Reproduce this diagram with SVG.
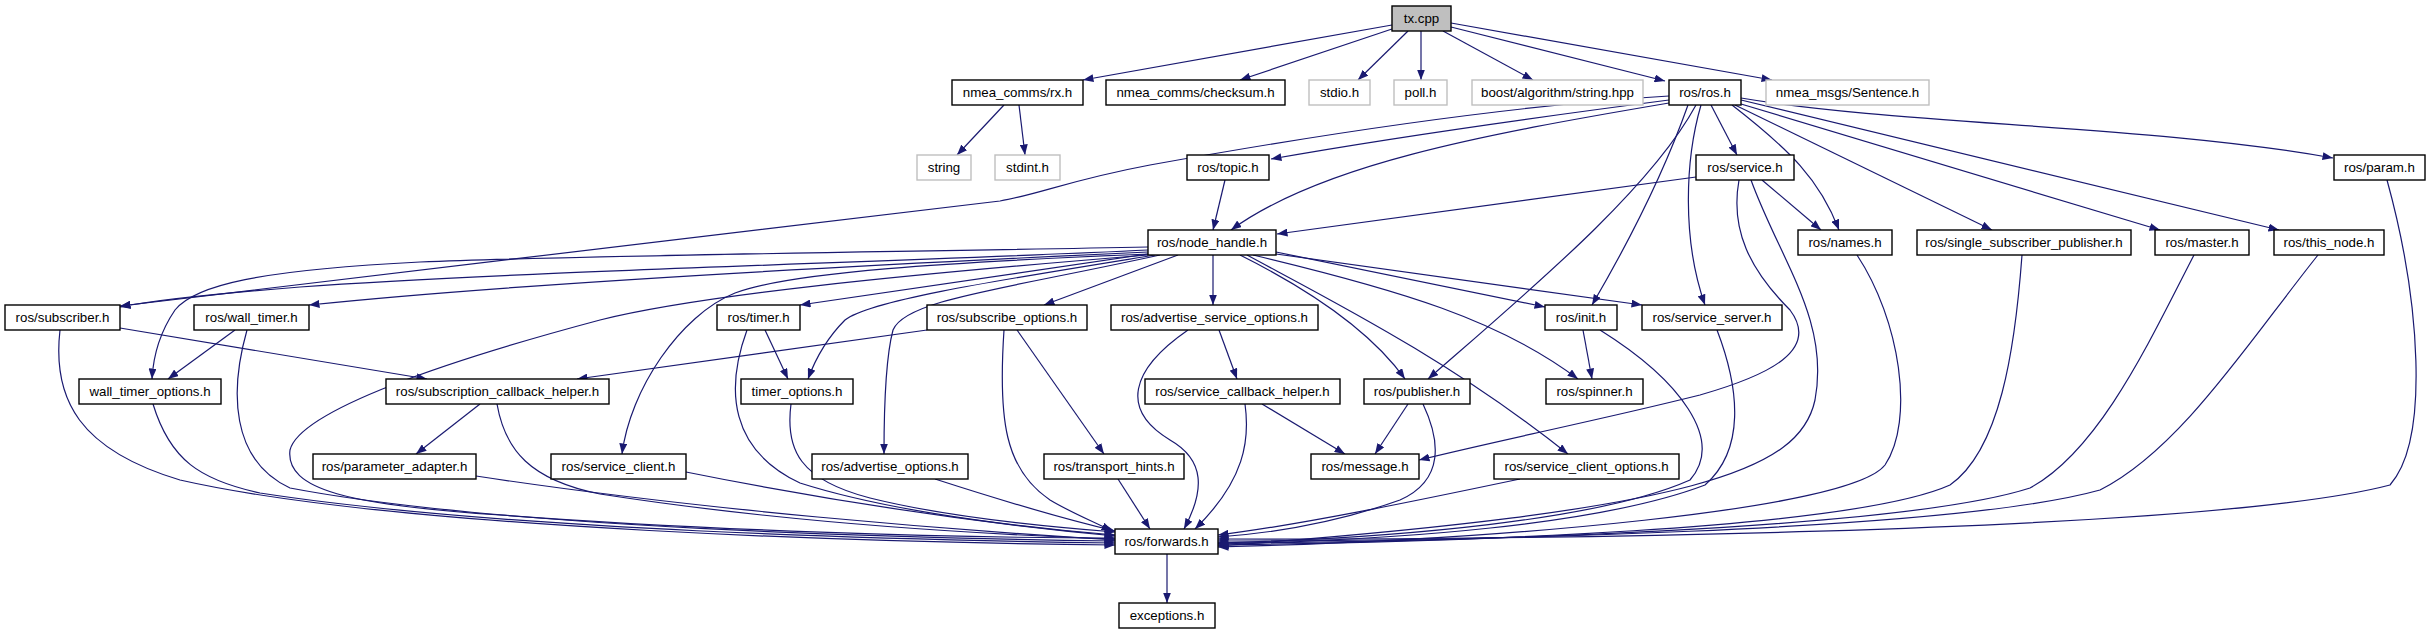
<svg xmlns="http://www.w3.org/2000/svg" width="2431" height="635" viewBox="0 0 2431 635">
<defs>
<marker id="ah" markerUnits="userSpaceOnUse" markerWidth="11" markerHeight="8" refX="10.5" refY="4" orient="auto">
<path d="M0,0 L10.5,4 L0,8 z" fill="#191970"/>
</marker>
<style>
.n rect{fill:#fff;stroke:#000;stroke-width:1.4}
.g rect{fill:#fff;stroke:#bfbfbf;stroke-width:1.4}
.r rect{fill:#bfbfbf;stroke:#000;stroke-width:1.4}
text{font-family:"Liberation Sans",Arial,Helvetica,sans-serif;font-size:13.3px;text-anchor:middle;fill:#000}
#edges path{fill:none;stroke:#191970;stroke-width:1.2;marker-end:url(#ah)}
</style>
</defs>
<rect width="2431" height="635" fill="#fff"/>
<g id="edges">
<!-- tx.cpp -->
<path d="M1392,25 L1083,80"/>
<path d="M1392,29 L1240,80"/>
<path d="M1408,31 L1358,80"/>
<path d="M1421,31 L1421,80"/>
<path d="M1443,31 L1533,80"/>
<path d="M1451,27 L1665,81"/>
<path d="M1451,23 L1772,80"/>
<!-- rx.h -->
<path d="M1004,105 L957,155"/>
<path d="M1019,105 L1025,155"/>
<!-- ros.h -->
<path d="M1669,96 C1500,106 1300,138 1150,165 C1070,180 1040,194 1000,201 L120,306"/>
<path d="M1669,100 C1500,122 1350,145 1271,159"/>
<path d="M1669,103 C1480,135 1320,165 1231,230"/>
<path d="M1711,105 L1737,155"/>
<path d="M1732,105 C1790,150 1820,180 1839,230"/>
<path d="M1735,105 L1992,230"/>
<path d="M1741,104 L2160,230"/>
<path d="M1741,100 L2279,230"/>
<path d="M1741,98 C1900,125 2150,125 2333,158"/>
<path d="M1701,105 C1685,160 1682,240 1705,305"/>
<path d="M1688,105 C1665,170 1630,240 1592,305"/>
<path d="M1696,105 C1650,190 1530,290 1428,379"/>
<!-- topic -->
<path d="M1225,180 L1213,230"/>
<!-- service.h -->
<path d="M1696,177 L1277,234"/>
<path d="M1762,180 L1821,230"/>
<path d="M1739,180 C1730,230 1750,270 1790,310 C1820,350 1770,375 1700,395 C1600,420 1500,440 1419,460"/>
<path d="M1751,180 C1780,260 1830,320 1815,400 C1800,470 1700,510 1218,546"/>
<!-- node_handle -->
<path d="M1148,247 C900,252 600,255 420,262 C260,270 195,285 175,310 C158,335 153,360 152,379"/>
<path d="M1148,250 C900,262 500,272 300,287 C200,295 150,301 120,307"/>
<path d="M1148,252 C800,268 500,285 309,305"/>
<path d="M1148,254 L800,305"/>
<path d="M1148,255 C900,275 700,295 600,320 C450,360 300,410 290,450 C285,490 350,505 500,515 C700,530 950,538 1115,538"/>
<path d="M1150,254 C950,262 790,272 735,293 C680,315 630,390 622,454"/>
<path d="M1155,255 C1000,280 870,300 845,320 C825,340 815,360 808,379"/>
<path d="M1160,255 C1000,290 905,300 893,330 C885,360 884,420 884,454"/>
<path d="M1178,255 L1044,305"/>
<path d="M1213,255 L1213,305"/>
<path d="M1240,255 C1310,290 1370,330 1405,379"/>
<path d="M1247,255 C1330,300 1450,360 1568,454"/>
<path d="M1253,255 C1400,290 1500,320 1578,379"/>
<path d="M1276,252 L1545,307"/>
<path d="M1276,254 L1642,305"/>
<!-- row3 -> forwards -->
<path d="M1857,255 C1900,320 1915,420 1885,465 C1850,510 1500,540 1218,547"/>
<path d="M2022,255 C2015,350 2000,450 1950,485 C1850,530 1450,542 1218,545"/>
<path d="M2194,255 C2150,340 2100,450 2030,488 C1900,530 1450,542 1218,543"/>
<path d="M2318,255 C2250,340 2180,450 2100,490 C1950,532 1450,541 1218,541"/>
<path d="M2387,180 C2420,300 2430,440 2390,485 C2200,535 1450,540 1218,539"/>
<!-- row4 -->
<path d="M120,328 L427,379"/>
<path d="M60,330 C52,400 80,450 180,480 C400,530 900,543 1115,545"/>
<path d="M235,330 L168,379"/>
<path d="M247,330 C230,390 230,460 290,488 C500,528 900,538 1115,541"/>
<path d="M765,330 L788,379"/>
<path d="M747,330 C725,390 730,450 800,483 C900,515 1050,530 1115,535"/>
<path d="M927,330 L577,379"/>
<path d="M1017,330 L1104,454"/>
<path d="M1004,330 C998,420 1005,470 1050,500 C1070,512 1090,520 1112,531"/>
<path d="M1219,330 L1237,379"/>
<path d="M1188,330 C1130,370 1120,410 1170,440 C1205,460 1205,490 1184,529"/>
<path d="M1583,330 L1592,379"/>
<path d="M1600,330 C1680,380 1725,440 1690,480 C1600,520 1400,538 1218,543"/>
<path d="M1717,330 C1740,390 1745,450 1705,485 C1600,525 1400,540 1218,544"/>
<!-- row5 -->
<path d="M153,404 C170,460 200,480 260,493 C500,530 900,540 1115,543"/>
<path d="M480,404 L416,454"/>
<path d="M497,404 C505,450 530,480 600,494 C800,525 1000,535 1115,539"/>
<path d="M791,404 C785,450 800,480 870,498 C950,518 1050,527 1115,532"/>
<path d="M1262,404 L1345,454"/>
<path d="M1245,404 C1250,440 1245,480 1195,529"/>
<path d="M1408,404 L1375,454"/>
<path d="M1423,404 C1440,440 1445,480 1400,500 C1330,525 1260,534 1218,537"/>
<!-- row6 -->
<path d="M476,476 C700,510 950,530 1115,540"/>
<path d="M686,472 C850,505 1000,525 1115,536"/>
<path d="M935,479 C1000,500 1060,518 1115,531"/>
<path d="M1118,479 L1150,529"/>
<path d="M1520,479 C1420,500 1300,525 1218,535"/>
<!-- forwards -->
<path d="M1167,554 L1167,603"/>
</g>
<g id="tx_cpp" class="r"><rect x="1392" y="6" width="59" height="25"/><text x="1421.5" y="23">tx.cpp</text></g>
<g id="nmea_comms_rx_h" class="n"><rect x="952" y="80" width="131" height="25"/><text x="1017.5" y="97">nmea_comms/rx.h</text></g>
<g id="nmea_comms_checksum_h" class="n"><rect x="1106" y="80" width="179" height="25"/><text x="1195.5" y="97">nmea_comms/checksum.h</text></g>
<g id="stdio_h" class="g"><rect x="1309" y="80" width="61" height="25"/><text x="1339.5" y="97">stdio.h</text></g>
<g id="poll_h" class="g"><rect x="1394" y="80" width="53" height="25"/><text x="1420.5" y="97">poll.h</text></g>
<g id="boost_string_hpp" class="g"><rect x="1472" y="80" width="171" height="25"/><text x="1557.5" y="97">boost/algorithm/string.hpp</text></g>
<g id="ros_ros_h" class="n"><rect x="1669" y="80" width="72" height="25"/><text x="1705" y="97">ros/ros.h</text></g>
<g id="nmea_msgs_Sentence_h" class="g"><rect x="1766" y="80" width="163" height="25"/><text x="1847.5" y="97">nmea_msgs/Sentence.h</text></g>
<g id="string" class="g"><rect x="917" y="155" width="54" height="25"/><text x="944" y="172">string</text></g>
<g id="stdint_h" class="g"><rect x="995" y="155" width="65" height="25"/><text x="1027.5" y="172">stdint.h</text></g>
<g id="ros_topic_h" class="n"><rect x="1187" y="155" width="82" height="25"/><text x="1228" y="172">ros/topic.h</text></g>
<g id="ros_service_h" class="n"><rect x="1696" y="155" width="98" height="25"/><text x="1745" y="172">ros/service.h</text></g>
<g id="ros_param_h" class="n"><rect x="2334" y="155" width="91" height="25"/><text x="2379.5" y="172">ros/param.h</text></g>
<g id="ros_node_handle_h" class="n"><rect x="1148" y="230" width="128" height="25"/><text x="1212" y="247">ros/node_handle.h</text></g>
<g id="ros_names_h" class="n"><rect x="1798" y="230" width="94" height="25"/><text x="1845" y="247">ros/names.h</text></g>
<g id="ros_single_subscriber_publisher_h" class="n"><rect x="1917" y="230" width="214" height="25"/><text x="2024" y="247">ros/single_subscriber_publisher.h</text></g>
<g id="ros_master_h" class="n"><rect x="2155" y="230" width="94" height="25"/><text x="2202" y="247">ros/master.h</text></g>
<g id="ros_this_node_h" class="n"><rect x="2274" y="230" width="110" height="25"/><text x="2329" y="247">ros/this_node.h</text></g>
<g id="ros_subscriber_h" class="n"><rect x="5" y="305" width="115" height="25"/><text x="62.5" y="322">ros/subscriber.h</text></g>
<g id="ros_wall_timer_h" class="n"><rect x="194" y="305" width="115" height="25"/><text x="251.5" y="322">ros/wall_timer.h</text></g>
<g id="ros_timer_h" class="n"><rect x="717" y="305" width="83" height="25"/><text x="758.5" y="322">ros/timer.h</text></g>
<g id="ros_subscribe_options_h" class="n"><rect x="927" y="305" width="160" height="25"/><text x="1007" y="322">ros/subscribe_options.h</text></g>
<g id="ros_advertise_service_options_h" class="n"><rect x="1111" y="305" width="207" height="25"/><text x="1214.5" y="322">ros/advertise_service_options.h</text></g>
<g id="ros_init_h" class="n"><rect x="1545" y="305" width="72" height="25"/><text x="1581" y="322">ros/init.h</text></g>
<g id="ros_service_server_h" class="n"><rect x="1642" y="305" width="140" height="25"/><text x="1712" y="322">ros/service_server.h</text></g>
<g id="wall_timer_options_h" class="n"><rect x="79" y="379" width="142" height="25"/><text x="150" y="396">wall_timer_options.h</text></g>
<g id="ros_subscription_callback_helper_h" class="n"><rect x="386" y="379" width="223" height="25"/><text x="497.5" y="396">ros/subscription_callback_helper.h</text></g>
<g id="timer_options_h" class="n"><rect x="741" y="379" width="112" height="25"/><text x="797" y="396">timer_options.h</text></g>
<g id="ros_service_callback_helper_h" class="n"><rect x="1145" y="379" width="195" height="25"/><text x="1242.5" y="396">ros/service_callback_helper.h</text></g>
<g id="ros_publisher_h" class="n"><rect x="1364" y="379" width="106" height="25"/><text x="1417" y="396">ros/publisher.h</text></g>
<g id="ros_spinner_h" class="n"><rect x="1546" y="379" width="97" height="25"/><text x="1594.5" y="396">ros/spinner.h</text></g>
<g id="ros_parameter_adapter_h" class="n"><rect x="313" y="454" width="163" height="25"/><text x="394.5" y="471">ros/parameter_adapter.h</text></g>
<g id="ros_service_client_h" class="n"><rect x="551" y="454" width="135" height="25"/><text x="618.5" y="471">ros/service_client.h</text></g>
<g id="ros_advertise_options_h" class="n"><rect x="812" y="454" width="156" height="25"/><text x="890" y="471">ros/advertise_options.h</text></g>
<g id="ros_transport_hints_h" class="n"><rect x="1044" y="454" width="140" height="25"/><text x="1114" y="471">ros/transport_hints.h</text></g>
<g id="ros_message_h" class="n"><rect x="1311" y="454" width="108" height="25"/><text x="1365" y="471">ros/message.h</text></g>
<g id="ros_service_client_options_h" class="n"><rect x="1494" y="454" width="185" height="25"/><text x="1586.5" y="471">ros/service_client_options.h</text></g>
<g id="ros_forwards_h" class="n"><rect x="1115" y="529" width="103" height="25"/><text x="1166.5" y="546">ros/forwards.h</text></g>
<g id="exceptions_h" class="n"><rect x="1119" y="603" width="96" height="25"/><text x="1167" y="620">exceptions.h</text></g>
</svg>
